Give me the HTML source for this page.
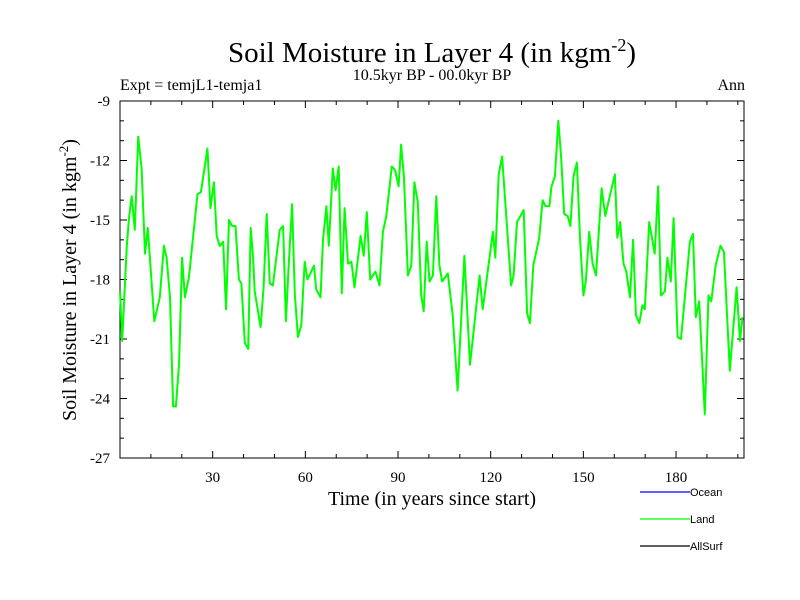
<!DOCTYPE html>
<html><head><meta charset="utf-8"><style>
body{margin:0;background:#fff;}
svg{display:block;}
</style></head><body>
<svg id="chart" width="800" height="600" xmlns="http://www.w3.org/2000/svg">
<text x="432" y="62" text-anchor="middle" font-family="Liberation Serif, serif" font-size="29">Soil Moisture in Layer 4 (in kgm<tspan dy="-11" font-size="18">-2</tspan><tspan dy="11">)</tspan></text>
<text x="432" y="80" text-anchor="middle" font-family="Liberation Serif, serif" font-size="16">10.5kyr BP - 00.0kyr BP</text>
<text x="120" y="90" font-family="Liberation Serif, serif" font-size="16">Expt = temjL1-temja1</text>
<text x="745" y="90" text-anchor="end" font-family="Liberation Serif, serif" font-size="16">Ann</text>
<text transform="translate(76,280) rotate(-90)" text-anchor="middle" font-family="Liberation Serif, serif" font-size="20">Soil Moisture in Layer 4 (in kgm<tspan dy="-8" font-size="13">-2</tspan><tspan dy="8">)</tspan></text>
<text x="432" y="505" text-anchor="middle" font-family="Liberation Serif, serif" font-size="20">Time (in years since start)</text>
<g id="axes"></g>
<g id="series"></g>
<g font-family="Liberation Sans, sans-serif" font-size="11">
<line x1="640" y1="492" x2="690" y2="492" stroke="#0000ff" stroke-width="1.2"/>
<text x="690" y="496">Ocean</text>
<line x1="640" y1="519" x2="690" y2="519" stroke="#00ff00" stroke-width="1.2"/>
<text x="690" y="523">Land</text>
<line x1="640" y1="546" x2="690" y2="546" stroke="#000" stroke-width="1.2"/>
<text x="690" y="550">AllSurf</text>
</g>
</svg>
<script>
const years=[0,0.7,1.4,2.2,2.9,3.8,4.8,5.9,7.0,8.1,9.0,11.1,12.9,14.2,15.1,16.2,17.2,18.1,19.1,20.1,21.0,22.3,25.1,26.2,28.3,29.3,30.4,31.3,32.3,33.4,34.3,35.3,36.3,37.4,38.5,39.3,40.4,41.5,42.3,43.1,43.6,45.5,46.5,47.5,48.5,49.5,51.7,52.8,53.7,54.6,55.7,56.6,57.6,58.7,59.8,60.7,62.8,63.5,64.9,65.7,66.8,67.6,68.9,69.8,70.8,71.8,72.7,73.8,74.9,75.9,77.9,78.9,79.9,81.0,82.7,84.0,85.1,86.2,88.0,89.1,90.2,91.0,91.9,93.2,94.3,95.3,96.4,97.5,98.3,99.3,100.2,101.3,102.4,103.4,104.3,106.1,107.7,109.3,111.5,113.3,116.4,117.4,120.7,121.5,122.6,123.7,126.6,127.4,128.5,130.7,131.8,132.7,133.8,135.7,136.8,137.7,139.0,139.7,140.8,141.9,142.8,143.8,144.9,145.8,146.8,147.9,148.9,150.0,150.8,151.9,153.0,154.1,155.9,157.1,158.7,160.2,161.0,161.9,163.0,163.9,165.1,166.1,167.0,168.1,169.1,169.9,171.3,173.1,174.2,175.1,176.4,177.2,178.3,179.2,180.5,181.6,184.5,185.5,186.4,187.5,189.3,190.5,191.4,192.8,194.4,195.5,197.4,199.6,200.7,201.5];
const landValues=[-18.6,-21.1,-18.9,-16.3,-14.9,-13.8,-15.5,-10.8,-12.4,-16.7,-15.4,-20.1,-18.9,-16.3,-16.9,-18.9,-24.4,-24.4,-22.3,-16.9,-18.9,-17.9,-13.7,-13.6,-11.4,-14.4,-13.1,-15.8,-16.3,-16.1,-19.5,-15.0,-15.3,-15.3,-18.0,-18.2,-21.2,-21.5,-15.4,-16.9,-18.6,-20.4,-18.4,-14.7,-18.2,-18.3,-15.5,-15.3,-20.1,-17.3,-14.2,-18.7,-20.9,-20.3,-17.1,-18.0,-17.3,-18.5,-18.9,-16.0,-14.3,-16.3,-12.4,-13.5,-12.3,-18.7,-14.4,-17.2,-17.1,-18.4,-15.8,-16.8,-14.6,-18.0,-17.6,-18.3,-15.6,-14.8,-12.3,-12.5,-13.3,-11.2,-12.8,-17.8,-17.3,-13.1,-14.1,-18.8,-19.6,-16.1,-18.1,-17.8,-13.8,-17.3,-18.1,-17.7,-19.8,-23.6,-16.8,-22.3,-17.8,-19.5,-15.6,-16.9,-12.7,-11.8,-18.3,-17.8,-15.1,-14.5,-19.7,-20.2,-17.3,-15.9,-14.0,-14.3,-14.3,-13.3,-12.8,-10.0,-11.8,-14.7,-14.8,-15.3,-12.8,-12.1,-15.9,-18.8,-18.1,-15.6,-17.2,-17.8,-13.4,-14.8,-13.7,-12.7,-15.9,-15.1,-17.2,-17.6,-18.9,-16.0,-19.8,-20.2,-19.3,-19.5,-15.1,-16.7,-13.3,-18.8,-18.6,-16.9,-18.1,-14.9,-20.9,-21.0,-16.1,-15.7,-19.9,-19.1,-24.8,-18.8,-19.1,-17.3,-16.3,-16.6,-22.6,-18.4,-21.1,-19.9];
const xTickValues=[30,60,90,120,150,180];
const yTickValues=[-9,-12,-15,-18,-21,-24,-27];
const L=120,R=744,T=101,B=458,XMIN=0,XMAX=202,YMIN=-27,YMAX=-9;
const NS='http://www.w3.org/2000/svg';
function xs(v){return L+(v-XMIN)/(XMAX-XMIN)*(R-L);}
function ys(v){return B-(v-YMIN)/(YMAX-YMIN)*(B-T);}
function mk(tag,attrs,parent){const e=document.createElementNS(NS,tag);for(const k in attrs)e.setAttribute(k,attrs[k]);parent.appendChild(e);return e;}
const ax=document.getElementById('axes');
const frame=mk('rect',{x:L,y:T,width:R-L,height:B-T,fill:'none',stroke:'#000','stroke-width':1},ax);


for(let v=10;v<=200;v+=10){
  const major=v%30===0;const len=major?7:4;const x=xs(v);
  const t1=mk('line',{x1:x,y1:B,x2:x,y2:B-len,stroke:'#000'},ax);
  
  
  const t2=mk('line',{x1:x,y1:T,x2:x,y2:T+len,stroke:'#000'},ax);
  
  
}
xTickValues.forEach(v=>{
  const t=mk('text',{x:xs(v),y:B+24,'text-anchor':'middle','font-family':'Liberation Serif, serif','font-size':15},ax);
  t.textContent=v;
  
  
});
for(let v=-27;v<=-9;v+=1){
  const major=v%3===0;const len=major?7:4;const y=ys(v);
  const t1=mk('line',{x1:L,y1:y,x2:L+len,y2:y,stroke:'#000'},ax);
  
  
  const t2=mk('line',{x1:R,y1:y,x2:R-len,y2:y,stroke:'#000'},ax);
  
  
}
yTickValues.forEach(v=>{
  const t=mk('text',{x:L-10,y:ys(v)+5,'text-anchor':'end','font-family':'Liberation Serif, serif','font-size':15},ax);
  t.textContent=v;
  
  
});
const sg=document.getElementById('series');
const pts=years.map((yr,i)=>xs(yr).toFixed(1)+','+ys(landValues[i]).toFixed(1)).join(' ');
const line=mk('polyline',{points:pts,fill:'none',stroke:'#00ff00','stroke-width':2,'stroke-linejoin':'round'},sg);


</script>
</body></html>
